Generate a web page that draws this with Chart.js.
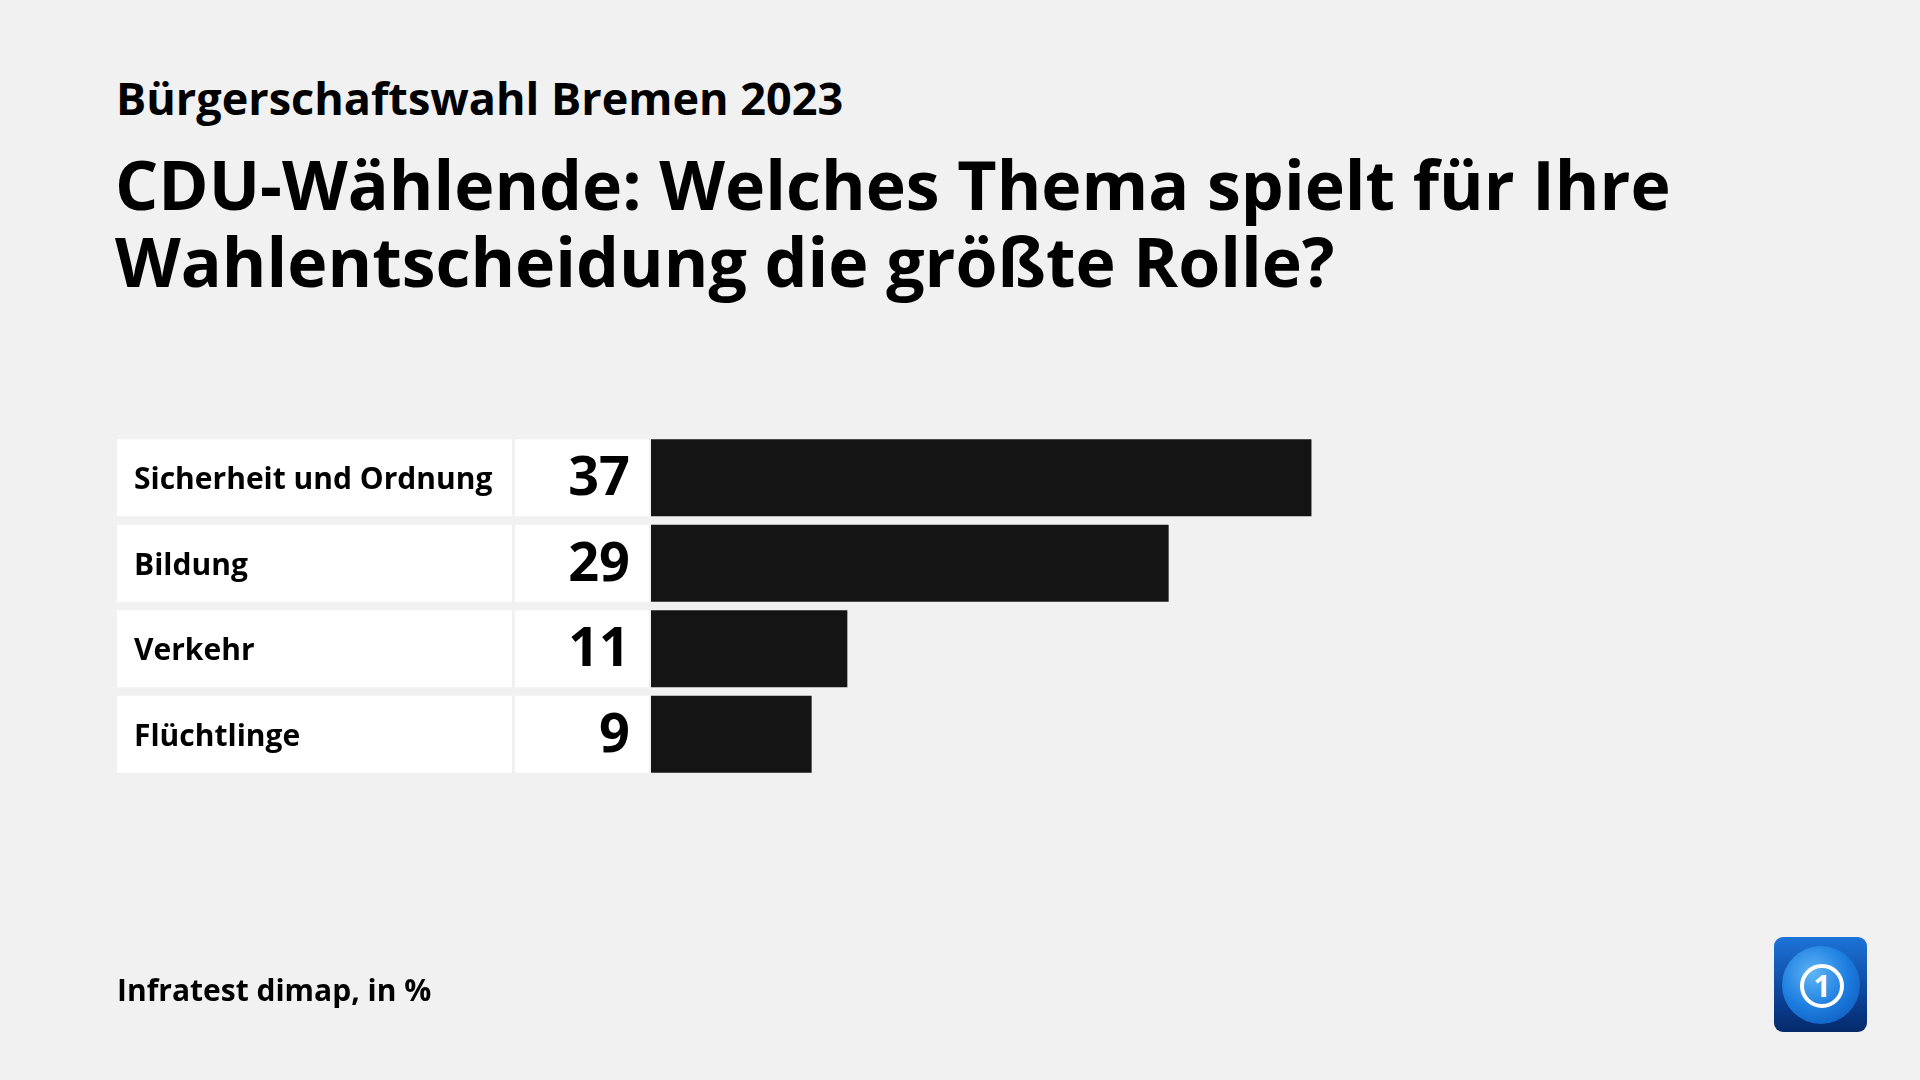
<!DOCTYPE html>
<html lang="de">
<head>
<meta charset="utf-8">
<title>Bürgerschaftswahl Bremen 2023</title>
<script src="https://cdn.jsdelivr.net/npm/chart.js@4"></script>
<style>
  html, body { margin: 0; padding: 0; background: #f1f1f1; }
  body { width: 1920px; height: 1080px; position: relative; overflow: hidden; font-family: "Open Sans", Lato, sans-serif; color: #000; }
  #chart { position: absolute; left: 0; top: 0; }
  .sub { position: absolute; left: 116px; top: 75px; font-size: 45px; font-weight: 700; line-height: 1; }
  .title { position: absolute; left: 115px; top: 145px; font-size: 68px; font-weight: 700; line-height: 77px; }
  .src { position: absolute; left: 117px; top: 975px; font-size: 30px; font-weight: 700; line-height: 1; }
  .logo { position: absolute; left: 1774px; top: 937px; width: 93px; height: 95px; border-radius: 9px;
    background: linear-gradient(#1d74d8, #0a3d8f 70%, #052a6b); overflow: hidden; }
  .globe { position: absolute; left: 8px; top: 9px; width: 78px; height: 78px; border-radius: 50%;
    background: radial-gradient(circle at 40% 35%, #5fb4f5, #1d7ee0 50%, #0b4fb0 100%); }
  .ring { position: absolute; left: 26px; top: 27px; width: 36px; height: 36px; border-radius: 50%;
    border: 4px solid #fff; color: #fff; font: 700 30px/36px "Open Sans", sans-serif; text-align: center; }
</style>
</head>
<body>
<div class="sub">Bürgerschaftswahl Bremen 2023</div>
<div class="title">CDU-Wählende: Welches Thema spielt für Ihre<br>Wahlentscheidung die größte Rolle?</div>
<canvas id="chart" width="1920" height="1080"></canvas>
<div class="src">Infratest dimap, in %</div>
<div class="logo"><div class="globe"></div><div class="ring">1</div></div>
<script>
// data
const themen = ['Sicherheit und Ordnung', 'Bildung', 'Verkehr', 'Flüchtlinge'];
const anteile = [37, 29, 11, 9];

// white label + value cells behind each bar
const zellen = {
  id: 'zellen',
  beforeDatasetsDraw(chart) {
    const ctx = chart.ctx;
    const meta = chart.getDatasetMeta(0);
    ctx.save();
    meta.data.forEach((bar, i) => {
      const h = bar.height;
      const top = bar.y - h / 2;
      ctx.fillStyle = '#fff';
      ctx.fillRect(117, top, 395, h);
      ctx.fillRect(515, top, 134, h);

      ctx.fillStyle = '#000';
      ctx.textBaseline = 'middle';
      ctx.textAlign = 'left';
      ctx.font = '700 30px "Open Sans", sans-serif';
      ctx.fillText(themen[i], 134, bar.y + 3);

      ctx.textAlign = 'right';
      ctx.font = '700 54px "Open Sans", sans-serif';
      ctx.fillText(anteile[i], 630, bar.y + 2);
    });
    ctx.restore();
  }
};

new Chart(document.getElementById('chart'), {
  type: 'bar',
  data: {
    labels: themen,
    datasets: [{
      data: anteile,
      backgroundColor: '#141414',
      barPercentage: 0.9,
      categoryPercentage: 1
    }]
  },
  options: {
    indexAxis: 'y',
    responsive: false,
    animation: false,
    devicePixelRatio: 1,
    layout: { padding: { left: 651, right: 198, top: 435, bottom: 303 } },
    scales: {
      x: { display: false, min: 0, max: 60 },
      y: { display: false }
    },
    plugins: {
      legend: { display: false },
      tooltip: { enabled: false }
    }
  },
  plugins: [zellen]
});
</script>
</body>
</html>
